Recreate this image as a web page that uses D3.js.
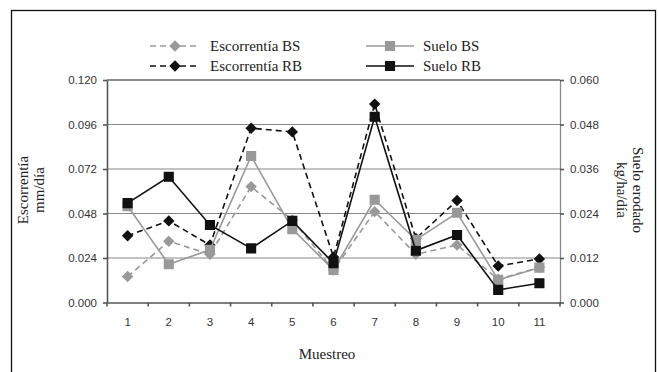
<!DOCTYPE html>
<html>
<head>
<meta charset="utf-8">
<script src="https://cdn.jsdelivr.net/npm/d3@7"></script>
<style>
  body { margin: 0; background: #fff; }
  svg { display: block; }
  .tick text { font-family: "Liberation Sans", Arial, sans-serif; font-size: 11.5px; fill: #333; }
  .ttl { font-family: "Liberation Serif", "Times New Roman", serif; font-size: 15px; fill: #222; }
</style>
</head>
<body>
<div id="chart"></div>
<script>
'use strict';

// sampling rounds
const muestreo = ['1', '2', '3', '4', '5', '6', '7', '8', '9', '10', '11'];

// runoff, mm/día (left axis)
const escorrentiaBS = [0.014, 0.033, 0.026, 0.0625, 0.0445, 0.0175, 0.049, 0.026, 0.031, 0.0125, 0.019];
const escorrentiaRB = [0.036, 0.044, 0.031, 0.094, 0.092, 0.0245, 0.107, 0.0345, 0.055, 0.0197, 0.0235];

// eroded soil, kg/ha/día (right axis)
const sueloBS = [0.026, 0.0103, 0.0142, 0.0395, 0.0198, 0.0088, 0.0277, 0.0169, 0.0242, 0.0061, 0.0094];
const sueloRB = [0.0268, 0.0339, 0.0209, 0.0146, 0.022, 0.0106, 0.0501, 0.014, 0.0182, 0.0034, 0.0052];

const leftTicks = [0, 0.024, 0.048, 0.072, 0.096, 0.120];
const rightTicks = [0, 0.012, 0.024, 0.036, 0.048, 0.060];

const width = 659, height = 372;
const plot = { left: 107, right: 560, top: 80, bottom: 302.5 };

const svg = d3.select('#chart').append('svg')
    .attr('width', width)
    .attr('height', height);

// outer frame, runs off the bottom of the picture
svg.append('rect')
    .attr('x', 11.5).attr('y', 10.5)
    .attr('width', 644).attr('height', 380)
    .style('fill', 'none')
    .style('stroke', '#111')
    .style('stroke-width', 1.3);

let x = d3.scaleBand().domain(muestreo).range([plot.left, plot.right]);
let yL = d3.scaleLinear().domain([0, 0.12]).range([plot.bottom, plot.top]);
let yR = d3.scaleLinear().domain([0, 0.06]).range([plot.bottom, plot.top]);
let cx = function(d, i) { return x(muestreo[i]) + x.bandwidth() / 2; };

/*
* grid lines
 */
svg.append('g').selectAll('line')
    .data(leftTicks.slice(1))
    .enter()
    .append('line')
    .attr('x1', plot.left).attr('x2', plot.right)
    .attr('y1', function(d) { return yL(d); })
    .attr('y2', function(d) { return yL(d); })
    .style('stroke', function(d) { return d === 0.12 ? '#666' : '#888'; })
    .style('stroke-width', function(d) { return d === 0.12 ? 1.6 : 1.1; });

/*
* axes
 */
let axisL = svg.append('g')
    .attr('transform', 'translate(' + plot.left + ',0)')
    .call(d3.axisLeft(yL).tickValues(leftTicks).tickFormat(d3.format('.3f')).tickSizeInner(4).tickSizeOuter(0).tickPadding(6));

let axisR = svg.append('g')
    .attr('transform', 'translate(' + plot.right + ',0)')
    .call(d3.axisRight(yR).tickValues(rightTicks).tickFormat(d3.format('.3f')).tickSizeInner(4).tickSizeOuter(0).tickPadding(6));

let axisB = svg.append('g')
    .attr('transform', 'translate(0,' + plot.bottom + ')')
    .call(d3.axisBottom(x).tickSize(0).tickPadding(15));

// x ticks sit between the categories
axisB.selectAll('.sep')
    .data(d3.range(muestreo.length + 1))
    .enter()
    .append('line')
    .attr('class', 'sep')
    .attr('x1', function(i) { return plot.left + i * x.step(); })
    .attr('x2', function(i) { return plot.left + i * x.step(); })
    .attr('y1', 0).attr('y2', 4);

[axisL, axisR, axisB].forEach(function(a) {
    a.selectAll('path, line').style('stroke', '#555').style('stroke-width', 1.6);
});
axisR.select('.domain').style('stroke', '#888').style('stroke-width', 1.3);

/*
* axis titles
 */
svg.append('text')
    .attr('class', 'ttl')
    .attr('text-anchor', 'middle')
    .attr('x', 327).attr('y', 359)
    .text('Muestreo');

let titleL = svg.append('text')
    .attr('class', 'ttl')
    .attr('text-anchor', 'middle')
    .attr('transform', 'translate(28,190) rotate(-90)');
titleL.append('tspan').attr('x', 0).attr('dy', 0).text('Escorrentía');
titleL.append('tspan').attr('x', 0).attr('dy', 16).text('mm/día');

let titleR = svg.append('text')
    .attr('class', 'ttl')
    .attr('text-anchor', 'middle')
    .attr('transform', 'translate(633,190) rotate(90)');
titleR.append('tspan').attr('x', 0).attr('dy', 0).text('Suelo erodado');
titleR.append('tspan').attr('x', 0).attr('dy', 16).text('kg/ha/día');

/*
* series
 */
const series = [
    { name: 'Escorrentía BS', values: escorrentiaBS, y: yL, color: '#999', dashed: true, marker: 'diamond' },
    { name: 'Escorrentía RB', values: escorrentiaRB, y: yL, color: '#111', dashed: true, marker: 'diamond' },
    { name: 'Suelo BS', values: sueloBS, y: yR, color: '#999', dashed: false, marker: 'square' },
    { name: 'Suelo RB', values: sueloRB, y: yR, color: '#111', dashed: false, marker: 'square' }
];

const diamond = d3.symbol().type(d3.symbolDiamond2).size(55);
const square = d3.symbol().type(d3.symbolSquare2).size(95);

function drawMarker(sel, s) {
    sel.append('path')
        .attr('d', s.marker === 'diamond' ? diamond() : square())
        .style('fill', s.color)
        .style('stroke', s.color)
        .style('stroke-width', 1.5);
}

series.forEach(function(s) {
    let g = svg.append('g').attr('class', 'series');

    let line = d3.line()
        .x(cx)
        .y(function(d) { return s.y(d); });

    g.append('path')
        .attr('d', line(s.values))
        .style('fill', 'none')
        .style('stroke', s.color)
        .style('stroke-width', 1.6)
        .style('stroke-dasharray', s.dashed ? '6,4' : null);

    g.selectAll('.pt')
        .data(s.values)
        .enter()
        .append('g')
        .attr('class', 'pt')
        .attr('transform', function(d, i) { return 'translate(' + cx(d, i) + ',' + s.y(d) + ')'; })
        .each(function() { drawMarker(d3.select(this), s); });
});

/*
* legend
 */
const legendPos = [
    { x: 150, y: 46 }, { x: 150, y: 66 },
    { x: 366, y: 46 }, { x: 366, y: 66 }
];

series.forEach(function(s, i) {
    let p = legendPos[i];
    let lg = svg.append('g').attr('transform', 'translate(' + p.x + ',' + p.y + ')');
    let lw = s.dashed ? 50 : 48;

    lg.append('line')
        .attr('x1', 0).attr('x2', lw)
        .style('stroke', s.color)
        .style('stroke-width', 1.6)
        .style('stroke-dasharray', s.dashed ? '6,4' : null);

    lg.append('g')
        .attr('transform', 'translate(' + (lw / 2) + ',0)')
        .call(function(sel) { drawMarker(sel, s); });

    lg.append('text')
        .attr('class', 'ttl')
        .attr('x', s.dashed ? 60 : 57)
        .attr('y', 5)
        .text(s.name);
});
</script>
</body>
</html>
